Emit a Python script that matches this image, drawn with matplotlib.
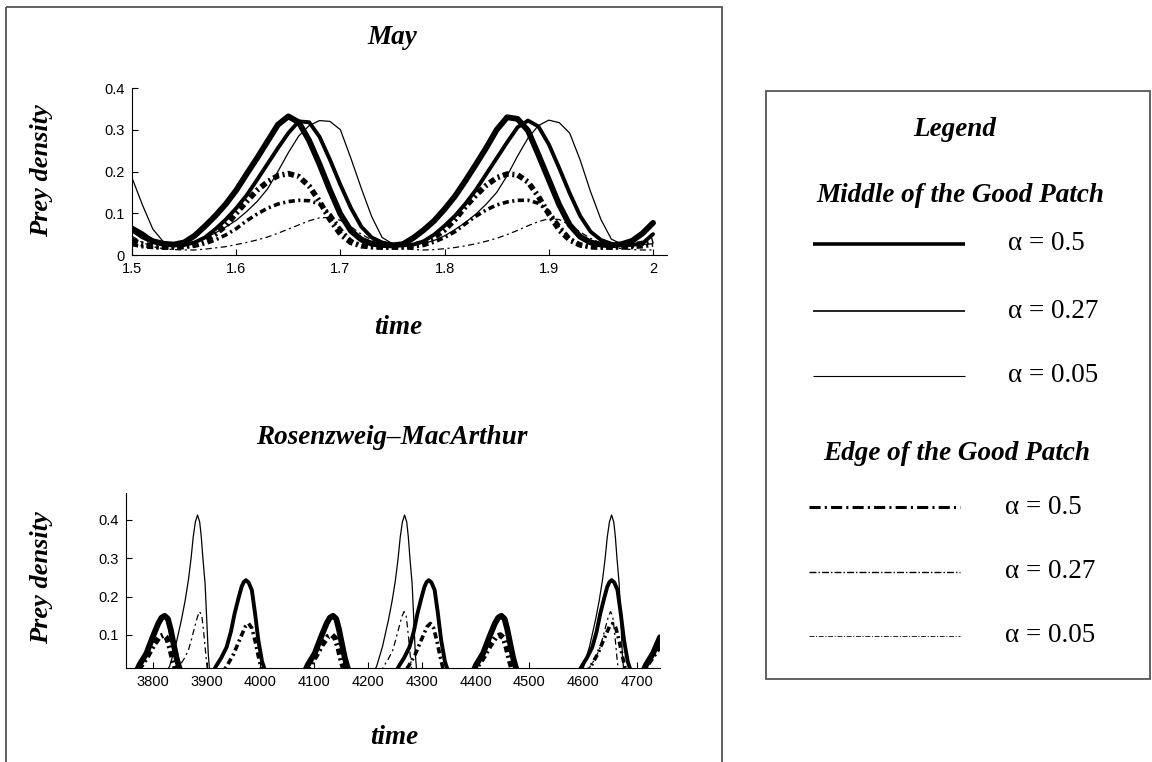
import numpy as np
import matplotlib.pyplot as plt
from matplotlib.patches import Rectangle

plt.rcParams['lines.scale_dashes'] = False

# ---------------- May model (top panel) ----------------
may_time = np.linspace(1.5, 2.0, 51)

may_mid_05 = [0.062, 0.045, 0.033, 0.027, 0.025, 0.030, 0.046, 0.069, 0.094, 0.122,
              0.155, 0.194, 0.232, 0.272, 0.312, 0.332, 0.318, 0.274, 0.217, 0.155,
              0.098, 0.058, 0.037, 0.027, 0.024, 0.023, 0.026, 0.041, 0.060, 0.082,
              0.110, 0.141, 0.178, 0.217, 0.257, 0.300, 0.330, 0.326, 0.298, 0.240,
              0.180, 0.120, 0.072, 0.044, 0.030, 0.025, 0.023, 0.026, 0.034, 0.052,
              0.077]
may_mid_027 = [0.066, 0.052, 0.034, 0.026, 0.023, 0.024, 0.030, 0.042, 0.062, 0.085,
               0.112, 0.143, 0.180, 0.218, 0.256, 0.292, 0.320, 0.318, 0.283, 0.228,
               0.168, 0.113, 0.068, 0.042, 0.030, 0.025, 0.023, 0.025, 0.033, 0.049,
               0.070, 0.094, 0.123, 0.156, 0.194, 0.232, 0.270, 0.306, 0.322, 0.308,
               0.265, 0.208, 0.148, 0.094, 0.056, 0.036, 0.027, 0.024, 0.024, 0.028,
               0.050]
may_mid_005 = [0.185, 0.120, 0.062, 0.032, 0.025, 0.027, 0.030, 0.040, 0.053, 0.067,
               0.083, 0.104, 0.128, 0.158, 0.200, 0.245, 0.285, 0.310, 0.322, 0.320,
               0.300, 0.232, 0.160, 0.092, 0.042, 0.027, 0.024, 0.025, 0.028, 0.035,
               0.046, 0.061, 0.078, 0.098, 0.122, 0.150, 0.190, 0.237, 0.280, 0.310,
               0.323, 0.317, 0.292, 0.228, 0.152, 0.085, 0.038, 0.026, 0.024, 0.025,
               0.027]
may_edge_05 = [0.035, 0.026, 0.021, 0.019, 0.019, 0.021, 0.026, 0.035, 0.050, 0.070,
               0.100, 0.128, 0.155, 0.175, 0.190, 0.195, 0.188, 0.165, 0.128, 0.085,
               0.050, 0.030, 0.022, 0.020, 0.019, 0.019, 0.020, 0.023, 0.030, 0.042,
               0.060, 0.085, 0.116, 0.143, 0.167, 0.185, 0.194, 0.192, 0.175, 0.140,
               0.098, 0.060, 0.036, 0.024, 0.020, 0.019, 0.019, 0.020, 0.023, 0.028,
               0.035]
may_edge_027 = [0.025, 0.020, 0.018, 0.017, 0.017, 0.018, 0.021, 0.027, 0.036, 0.048,
                0.063, 0.082, 0.098, 0.112, 0.122, 0.128, 0.131, 0.130, 0.122, 0.098,
                0.062, 0.035, 0.022, 0.018, 0.017, 0.017, 0.017, 0.019, 0.023, 0.031,
                0.042, 0.056, 0.075, 0.093, 0.108, 0.120, 0.127, 0.131, 0.131, 0.124,
                0.104, 0.070, 0.040, 0.024, 0.018, 0.017, 0.017, 0.017, 0.018, 0.020,
                0.024]
may_edge_005 = [0.045, 0.030, 0.020, 0.015, 0.013, 0.012, 0.012, 0.014, 0.017, 0.020,
                0.025, 0.030, 0.036, 0.043, 0.052, 0.062, 0.072, 0.082, 0.089, 0.090,
                0.083, 0.068, 0.050, 0.036, 0.026, 0.019, 0.015, 0.013, 0.012, 0.013,
                0.015, 0.018, 0.022, 0.027, 0.033, 0.040, 0.049, 0.059, 0.070, 0.080,
                0.087, 0.085, 0.072, 0.055, 0.040, 0.028, 0.020, 0.015, 0.013, 0.012,
                0.012]

# ---------------- Rosenzweig-MacArthur (bottom panel) ----------------
rm_mid_05_t = [3750, 3768, 3775, 3788, 3800, 3810, 3816, 3822, 3828, 3833, 3837, 3841, 3844, 3849, 3853,
               4081, 4088, 4101, 4113, 4123, 4129, 4135, 4141, 4146, 4150, 4154, 4157, 4162, 4166,
               4394, 4401, 4414, 4426, 4436, 4442, 4448, 4454, 4459, 4463, 4467, 4470, 4475, 4479,
               4710, 4717, 4730, 4743]
rm_mid_05 = [0.0, 0.0, 0.022, 0.052, 0.096, 0.130, 0.145, 0.150, 0.142, 0.115, 0.087, 0.060, 0.040, 0.015, 0.0,
             0.0, 0.022, 0.052, 0.096, 0.130, 0.145, 0.150, 0.142, 0.115, 0.087, 0.060, 0.040, 0.015, 0.0,
             0.0, 0.022, 0.052, 0.096, 0.130, 0.145, 0.150, 0.142, 0.115, 0.087, 0.060, 0.040, 0.015, 0.0,
             0.0, 0.022, 0.052, 0.094]

rm_mid_027_t = [3750, 3910, 3918, 3927, 3937, 3945, 3952, 3959, 3965, 3969, 3973, 3978, 3984, 3990, 3996, 4003, 4006, 4010,
                4250, 4258, 4267, 4277, 4285, 4292, 4299, 4305, 4309, 4313, 4318, 4324, 4330, 4336, 4343, 4346, 4350,
                4590, 4598, 4607, 4617, 4625, 4632, 4639, 4645, 4649, 4653, 4658, 4664, 4670, 4676, 4683, 4686, 4690, 4743]
rm_mid_027 = [0.0, 0.0, 0.020, 0.040, 0.068, 0.108, 0.156, 0.195, 0.226, 0.238, 0.243, 0.237, 0.217, 0.156, 0.087, 0.031, 0.018, 0.0,
              0.0, 0.020, 0.040, 0.068, 0.108, 0.156, 0.195, 0.226, 0.238, 0.243, 0.237, 0.217, 0.156, 0.087, 0.031, 0.018, 0.0,
              0.0, 0.020, 0.040, 0.068, 0.108, 0.156, 0.195, 0.226, 0.238, 0.243, 0.237, 0.217, 0.156, 0.087, 0.031, 0.018, 0.0, 0.0]

rm_mid_005_t = [3750, 3823, 3831, 3842, 3853, 3860, 3866, 3871, 3875, 3879, 3883, 3887, 3890, 3893, 3897, 3899, 3901, 3903, 3905, 3907,
                4208, 4216, 4227, 4238, 4245, 4251, 4256, 4260, 4264, 4268, 4272, 4275, 4278, 4282, 4284, 4286, 4288, 4290, 4292,
                4593, 4601, 4612, 4623, 4630, 4636, 4641, 4645, 4649, 4653, 4657, 4660, 4663, 4667, 4669, 4671, 4673, 4675, 4677, 4743]
rm_mid_005 = [0.0, 0.0, 0.018, 0.070, 0.139, 0.190, 0.243, 0.300, 0.356, 0.395, 0.413, 0.395, 0.356, 0.300, 0.235, 0.175, 0.113, 0.050, 0.015, 0.0,
              0.0, 0.018, 0.070, 0.139, 0.190, 0.243, 0.300, 0.356, 0.395, 0.413, 0.395, 0.356, 0.300, 0.235, 0.175, 0.113, 0.050, 0.015, 0.0,
              0.0, 0.018, 0.070, 0.139, 0.190, 0.243, 0.300, 0.356, 0.395, 0.413, 0.395, 0.356, 0.300, 0.235, 0.175, 0.113, 0.050, 0.015, 0.0, 0.0]

rm_edge_05_t = [3750, 3770, 3778, 3790, 3802, 3812, 3820, 3826, 3832, 3837, 3842, 3846,
                4083, 4091, 4103, 4115, 4125, 4133, 4139, 4145, 4150, 4155, 4159,
                4396, 4404, 4416, 4428, 4438, 4446, 4452, 4458, 4463, 4468, 4472,
                4710, 4718, 4730, 4743]
rm_edge_05 = [0.0, 0.0, 0.020, 0.045, 0.075, 0.095, 0.100, 0.092, 0.065, 0.035, 0.012, 0.0,
              0.0, 0.020, 0.045, 0.075, 0.095, 0.100, 0.092, 0.065, 0.035, 0.012, 0.0,
              0.0, 0.020, 0.045, 0.075, 0.095, 0.100, 0.092, 0.065, 0.035, 0.012, 0.0,
              0.0, 0.020, 0.045, 0.072]

rm_edge_027_t = [3750, 3928, 3938, 3950, 3962, 3972, 3978, 3984, 3990, 3996, 4001, 4005,
                 4266, 4276, 4288, 4300, 4310, 4316, 4322, 4328, 4334, 4339, 4343,
                 4605, 4615, 4627, 4639, 4649, 4655, 4661, 4667, 4673, 4678, 4682, 4743]
rm_edge_027 = [0.0, 0.0, 0.020, 0.050, 0.090, 0.122, 0.130, 0.118, 0.085, 0.045, 0.015, 0.0,
               0.0, 0.020, 0.050, 0.090, 0.122, 0.130, 0.118, 0.085, 0.045, 0.015, 0.0,
               0.0, 0.020, 0.050, 0.090, 0.122, 0.130, 0.118, 0.085, 0.045, 0.015, 0.0, 0.0]

rm_edge_005_t = [3750, 3842, 3850, 3858, 3866, 3872, 3878, 3883, 3887, 3891, 3895, 3899, 3902,
                 4222, 4230, 4238, 4246, 4252, 4258, 4263, 4267, 4271, 4275, 4279, 4282,
                 4606, 4614, 4622, 4630, 4636, 4642, 4647, 4651, 4655, 4659, 4663, 4666, 4743]
rm_edge_005 = [0.0, 0.0, 0.020, 0.038, 0.060, 0.090, 0.122, 0.148, 0.161, 0.150, 0.100, 0.040, 0.0,
               0.0, 0.020, 0.038, 0.060, 0.090, 0.122, 0.148, 0.161, 0.150, 0.100, 0.040, 0.0,
               0.0, 0.020, 0.038, 0.060, 0.090, 0.122, 0.148, 0.161, 0.150, 0.100, 0.040, 0.0, 0.0]

legend_labels = ['\u03b1 = 0.5', '\u03b1 = 0.27', '\u03b1 = 0.05']

# line styles: (width, dash pattern or None)
mid_styles = [(4.2, None), (2.8, None), (0.9, None)]
edge_styles = [(4.0, (4.5, 2.5, 1.5, 2.5)), (2.6, (4.5, 2.5, 1.5, 2.5)), (0.9, (4.5, 2.5, 1.5, 2.5))]

serif = 'Liberation Serif'
sans = 'Liberation Sans'
W, H = 1152, 762

fig = plt.figure(figsize=(11.52, 7.62), dpi=100)

# pixel overlay for frames and free text
bg = fig.add_axes([0, 0, 1, 1], zorder=-1)
bg.set_xlim(0, W)
bg.set_ylim(H, 0)
bg.axis('off')
bg.add_patch(Rectangle((6, 7), 716, 790, fill=False, ec='#555555', lw=1.3, clip_on=False))
bg.add_patch(Rectangle((766, 91), 384, 588, fill=False, ec='#555555', lw=1.3, clip_on=False))

lab = dict(family=serif, style='italic', weight='bold', ha='center', va='center')
bg.text(392, 37, 'May', fontsize=19.5, **lab)
bg.text(392, 437, 'Rosenzweig\u2013MacArthur', fontsize=19.5, **lab)
bg.text(398, 327, 'time', fontsize=19.5, **lab)
bg.text(394, 738, 'time', fontsize=19.5, **lab)
bg.text(42, 171, 'Prey density', fontsize=19, rotation=90, **lab)
bg.text(42, 578, 'Prey density', fontsize=19, rotation=90, **lab)


def style_axes(ax):
    for s in ['top', 'right']:
        ax.spines[s].set_visible(False)
    for s in ['left', 'bottom']:
        ax.spines[s].set_linewidth(0.8)
    ax.tick_params(direction='in', length=4, width=0.8, labelsize=10.5, pad=5)
    for t in ax.get_xticklabels() + ax.get_yticklabels():
        t.set_family(sans)
    ax.patch.set_alpha(0)


def draw(ax, x, y, style):
    lw, dash = style
    if dash is None:
        ax.plot(x, y, color='black', lw=lw, solid_joinstyle='round', solid_capstyle='round')
    else:
        ax.plot(x, y, color='black', lw=lw, dashes=dash, dash_capstyle='butt')


# top panel
ax1 = fig.add_axes([132 / W, 1 - 255 / H, 535 / W, 167 / H])
for y, st in zip([may_mid_05, may_mid_027, may_mid_005], mid_styles):
    draw(ax1, may_time, y, st)
for y, st in zip([may_edge_05, may_edge_027, may_edge_005], edge_styles):
    draw(ax1, may_time, y, st)
ax1.set_xlim(1.5, 2.0134)
ax1.set_ylim(0, 0.4)
ax1.set_xticks([1.5, 1.6, 1.7, 1.8, 1.9, 2.0])
ax1.set_xticklabels(['1.5', '1.6', '1.7', '1.8', '1.9', '2'])
ax1.set_yticks([0, 0.1, 0.2, 0.3, 0.4])
ax1.set_yticklabels(['0', '0.1', '0.2', '0.3', '0.4'])
style_axes(ax1)

# bottom panel
ax2 = fig.add_axes([126 / W, 1 - 668 / H, 534 / W, 175 / H])
for t, y, st in zip([rm_mid_05_t, rm_mid_027_t, rm_mid_005_t],
                    [rm_mid_05, rm_mid_027, rm_mid_005], mid_styles):
    draw(ax2, t, y, st)
for t, y, st in zip([rm_edge_05_t, rm_edge_027_t, rm_edge_005_t],
                    [rm_edge_05, rm_edge_027, rm_edge_005], edge_styles):
    draw(ax2, t, y, st)
ax2.set_xlim(3750, 4743)
ax2.set_ylim(0.0139, 0.4704)
ax2.set_xticks(range(3800, 4701, 100))
ax2.set_yticks([0.1, 0.2, 0.3, 0.4])
ax2.set_yticklabels(['0.1', '0.2', '0.3', '0.4'])
style_axes(ax2)

# legend panel
bg.text(955, 129, 'Legend', fontsize=19.5, **lab)
bg.text(960, 195, 'Middle of the Good Patch', fontsize=19.5, **lab)
bg.text(957, 453, 'Edge of the Good Patch', fontsize=19.5, **lab)

leg_mid_y = [244, 311, 376]
leg_edge_y = [507, 572, 636]
leg_mid_w = [2.6, 1.2, 0.8]
leg_edge = [(2.2, (8, 3, 1.5, 3)), (1.0, (5, 1.5, 1, 1.5)), (0.6, (3.5, 1.2, 0.8, 1.2))]
for yy, lw, txt in zip(leg_mid_y, leg_mid_w, legend_labels):
    bg.plot([813, 965], [yy, yy], color='black', lw=lw, solid_capstyle='butt')
    bg.text(1008, yy, txt, family=serif, fontsize=19.5, ha='left', va='center')
for yy, (lw, dash), txt in zip(leg_edge_y, leg_edge, legend_labels):
    bg.plot([809, 960], [yy, yy], color='black', lw=lw, dashes=dash, dash_capstyle='butt')
    bg.text(1005, yy, txt, family=serif, fontsize=19.5, ha='left', va='center')

fig.savefig('out.png', dpi=100)
